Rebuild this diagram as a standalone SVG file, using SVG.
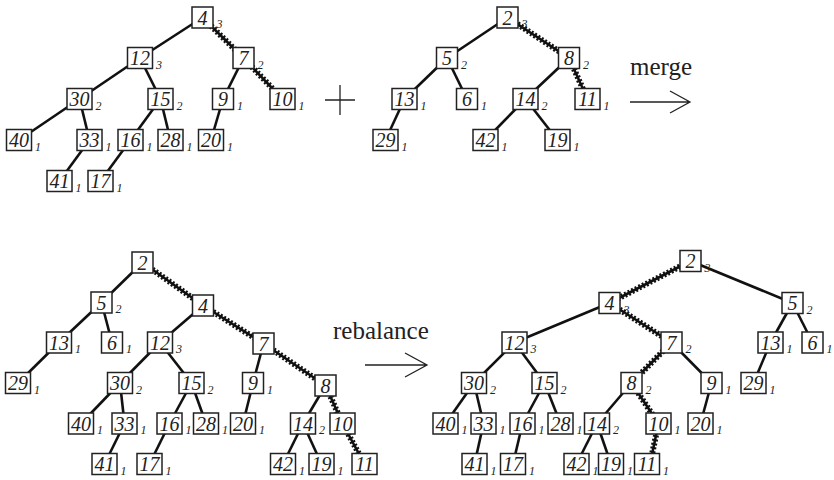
<svg xmlns="http://www.w3.org/2000/svg" width="834" height="480" viewBox="0 0 834 480">
<style>
.b{fill:#fff;stroke:#222;stroke-width:1.5}
.t{font-family:"Liberation Serif",serif;font-style:italic;font-size:20px;text-anchor:middle;fill:#222}
.r{font-family:"Liberation Serif",serif;font-style:italic;font-size:12px;fill:#222}
.e{stroke:#111;stroke-width:2.6;fill:none}
.w{stroke:#111;stroke-width:2.6;fill:none}
.wd{stroke:#111;stroke-width:6;stroke-dasharray:2 2;fill:none}
.a{stroke:#222;stroke-width:1.3;fill:none}
.l{font-family:"Liberation Serif",serif;font-size:25px;fill:#222}
</style>
<g id="connectors">
<line class="e" x1="202.5" y1="17.5" x2="140" y2="58"/>
<line class="w" x1="202.5" y1="17.5" x2="243.5" y2="58"/><line class="wd" x1="202.5" y1="17.5" x2="243.5" y2="58"/>
<line class="e" x1="140" y1="58" x2="79.5" y2="99"/>
<line class="e" x1="140" y1="58" x2="160.5" y2="99"/>
<line class="e" x1="243.5" y1="58" x2="223" y2="99"/>
<line class="w" x1="243.5" y1="58" x2="282.5" y2="99"/><line class="wd" x1="243.5" y1="58" x2="282.5" y2="99"/>
<line class="e" x1="79.5" y1="99" x2="19" y2="140"/>
<line class="e" x1="79.5" y1="99" x2="89.5" y2="140"/>
<line class="e" x1="160.5" y1="99" x2="130.5" y2="140"/>
<line class="e" x1="160.5" y1="99" x2="170.5" y2="140"/>
<line class="e" x1="223" y1="99" x2="211" y2="140"/>
<line class="e" x1="89.5" y1="140" x2="59.5" y2="181"/>
<line class="e" x1="130.5" y1="140" x2="100.5" y2="181"/>
<line class="e" x1="507.5" y1="17.5" x2="447" y2="58"/>
<line class="w" x1="507.5" y1="17.5" x2="569" y2="58"/><line class="wd" x1="507.5" y1="17.5" x2="569" y2="58"/>
<line class="e" x1="447" y1="58" x2="404.5" y2="99"/>
<line class="e" x1="447" y1="58" x2="467" y2="99"/>
<line class="e" x1="569" y1="58" x2="525.5" y2="99"/>
<line class="w" x1="569" y1="58" x2="587.5" y2="99"/><line class="wd" x1="569" y1="58" x2="587.5" y2="99"/>
<line class="e" x1="404.5" y1="99" x2="385.5" y2="140"/>
<line class="e" x1="525.5" y1="99" x2="485.5" y2="140"/>
<line class="e" x1="525.5" y1="99" x2="557.5" y2="140"/>
<line class="e" x1="142.5" y1="262.5" x2="101.5" y2="302.5"/>
<line class="w" x1="142.5" y1="262.5" x2="203" y2="305.5"/><line class="wd" x1="142.5" y1="262.5" x2="203" y2="305.5"/>
<line class="e" x1="101.5" y1="302.5" x2="59" y2="342.5"/>
<line class="e" x1="101.5" y1="302.5" x2="112" y2="342.5"/>
<line class="e" x1="59" y1="342.5" x2="18" y2="383"/>
<line class="e" x1="203" y1="305.5" x2="160" y2="342.5"/>
<line class="w" x1="203" y1="305.5" x2="263.5" y2="343.5"/><line class="wd" x1="203" y1="305.5" x2="263.5" y2="343.5"/>
<line class="e" x1="160" y1="342.5" x2="120" y2="383"/>
<line class="e" x1="160" y1="342.5" x2="191.5" y2="383"/>
<line class="e" x1="120" y1="383" x2="81" y2="423.5"/>
<line class="e" x1="120" y1="383" x2="124.5" y2="423.5"/>
<line class="e" x1="124.5" y1="423.5" x2="104.5" y2="464"/>
<line class="e" x1="191.5" y1="383" x2="169.5" y2="423.5"/>
<line class="e" x1="191.5" y1="383" x2="206" y2="423.5"/>
<line class="e" x1="169.5" y1="423.5" x2="149.5" y2="464"/>
<line class="e" x1="263.5" y1="343.5" x2="253" y2="383"/>
<line class="w" x1="263.5" y1="343.5" x2="325.5" y2="385.5"/><line class="wd" x1="263.5" y1="343.5" x2="325.5" y2="385.5"/>
<line class="e" x1="253" y1="383" x2="243" y2="423.5"/>
<line class="e" x1="325.5" y1="385.5" x2="303" y2="423.5"/>
<line class="w" x1="325.5" y1="385.5" x2="342.5" y2="423.5"/><line class="wd" x1="325.5" y1="385.5" x2="342.5" y2="423.5"/>
<line class="e" x1="303" y1="423.5" x2="283" y2="464"/>
<line class="e" x1="303" y1="423.5" x2="321.5" y2="464"/>
<line class="w" x1="342.5" y1="423.5" x2="364.5" y2="464"/><line class="wd" x1="342.5" y1="423.5" x2="364.5" y2="464"/>
<line class="w" x1="690.5" y1="261" x2="609.5" y2="303"/><line class="wd" x1="690.5" y1="261" x2="609.5" y2="303"/>
<line class="e" x1="690.5" y1="261" x2="792.5" y2="303"/>
<line class="e" x1="609.5" y1="303" x2="514.5" y2="342.5"/>
<line class="w" x1="609.5" y1="303" x2="671.5" y2="342.5"/><line class="wd" x1="609.5" y1="303" x2="671.5" y2="342.5"/>
<line class="e" x1="514.5" y1="342.5" x2="474" y2="383"/>
<line class="e" x1="514.5" y1="342.5" x2="544.5" y2="383"/>
<line class="e" x1="474" y1="383" x2="445.5" y2="423.5"/>
<line class="e" x1="474" y1="383" x2="483.5" y2="423.5"/>
<line class="e" x1="483.5" y1="423.5" x2="474.5" y2="464"/>
<line class="e" x1="544.5" y1="383" x2="522.5" y2="423.5"/>
<line class="e" x1="544.5" y1="383" x2="560.5" y2="423.5"/>
<line class="e" x1="522.5" y1="423.5" x2="513" y2="464"/>
<line class="w" x1="671.5" y1="342.5" x2="631.5" y2="383"/><line class="wd" x1="671.5" y1="342.5" x2="631.5" y2="383"/>
<line class="e" x1="671.5" y1="342.5" x2="711.5" y2="383"/>
<line class="e" x1="631.5" y1="383" x2="597" y2="423.5"/>
<line class="w" x1="631.5" y1="383" x2="658.5" y2="423.5"/><line class="wd" x1="631.5" y1="383" x2="658.5" y2="423.5"/>
<line class="w" x1="658.5" y1="423.5" x2="650" y2="464"/><line class="wd" x1="658.5" y1="423.5" x2="650" y2="464"/>
<line class="e" x1="597" y1="423.5" x2="576.5" y2="464"/>
<line class="e" x1="597" y1="423.5" x2="611" y2="464"/>
<line class="e" x1="711.5" y1="383" x2="700.5" y2="423.5"/>
<line class="e" x1="792.5" y1="303" x2="770.5" y2="342.5"/>
<line class="e" x1="792.5" y1="303" x2="812.5" y2="342.5"/>
<line class="e" x1="770.5" y1="342.5" x2="753.5" y2="383"/>
</g>
<g id="tl-4"><rect class="b" x="192" y="7" width="21" height="21"/><text class="t" x="202.5" y="24.5">4</text><text class="r" x="216.5" y="28">3</text></g>
<g id="tl-12"><rect class="b" x="127.5" y="47.5" width="25" height="21"/><text class="t" x="140" y="65">12</text><text class="r" x="156" y="68.5">3</text></g>
<g id="tl-7"><rect class="b" x="233" y="47.5" width="21" height="21"/><text class="t" x="243.5" y="65">7</text><text class="r" x="257.5" y="68.5">2</text></g>
<g id="tl-30"><rect class="b" x="67" y="88.5" width="25" height="21"/><text class="t" x="79.5" y="106">30</text><text class="r" x="95.5" y="109.5">2</text></g>
<g id="tl-15"><rect class="b" x="148" y="88.5" width="25" height="21"/><text class="t" x="160.5" y="106">15</text><text class="r" x="176.5" y="109.5">2</text></g>
<g id="tl-9"><rect class="b" x="212.5" y="88.5" width="21" height="21"/><text class="t" x="223" y="106">9</text><text class="r" x="237" y="109.5">1</text></g>
<g id="tl-10"><rect class="b" x="270" y="88.5" width="25" height="21"/><text class="t" x="282.5" y="106">10</text><text class="r" x="298.5" y="109.5">1</text></g>
<g id="tl-40"><rect class="b" x="6.5" y="129.5" width="25" height="21"/><text class="t" x="19" y="147">40</text><text class="r" x="35" y="150.5">1</text></g>
<g id="tl-33"><rect class="b" x="77" y="129.5" width="25" height="21"/><text class="t" x="89.5" y="147">33</text><text class="r" x="105.5" y="150.5">1</text></g>
<g id="tl-16"><rect class="b" x="118" y="129.5" width="25" height="21"/><text class="t" x="130.5" y="147">16</text><text class="r" x="146.5" y="150.5">1</text></g>
<g id="tl-28"><rect class="b" x="158" y="129.5" width="25" height="21"/><text class="t" x="170.5" y="147">28</text><text class="r" x="186.5" y="150.5">1</text></g>
<g id="tl-20"><rect class="b" x="198.5" y="129.5" width="25" height="21"/><text class="t" x="211" y="147">20</text><text class="r" x="227" y="150.5">1</text></g>
<g id="tl-41"><rect class="b" x="47" y="170.5" width="25" height="21"/><text class="t" x="59.5" y="188">41</text><text class="r" x="75.5" y="191.5">1</text></g>
<g id="tl-17"><rect class="b" x="88" y="170.5" width="25" height="21"/><text class="t" x="100.5" y="188">17</text><text class="r" x="116.5" y="191.5">1</text></g>
<g id="tr-2"><rect class="b" x="497" y="7" width="21" height="21"/><text class="t" x="507.5" y="24.5">2</text><text class="r" x="521.5" y="28">3</text></g>
<g id="tr-5"><rect class="b" x="436.5" y="47.5" width="21" height="21"/><text class="t" x="447" y="65">5</text><text class="r" x="461" y="68.5">2</text></g>
<g id="tr-8"><rect class="b" x="558.5" y="47.5" width="21" height="21"/><text class="t" x="569" y="65">8</text><text class="r" x="583" y="68.5">2</text></g>
<g id="tr-13"><rect class="b" x="392" y="88.5" width="25" height="21"/><text class="t" x="404.5" y="106">13</text><text class="r" x="420.5" y="109.5">1</text></g>
<g id="tr-6"><rect class="b" x="456.5" y="88.5" width="21" height="21"/><text class="t" x="467" y="106">6</text><text class="r" x="481" y="109.5">1</text></g>
<g id="tr-14"><rect class="b" x="513" y="88.5" width="25" height="21"/><text class="t" x="525.5" y="106">14</text><text class="r" x="541.5" y="109.5">2</text></g>
<g id="tr-11"><rect class="b" x="575" y="88.5" width="25" height="21"/><text class="t" x="587.5" y="106">11</text><text class="r" x="603.5" y="109.5">1</text></g>
<g id="tr-29"><rect class="b" x="373" y="129.5" width="25" height="21"/><text class="t" x="385.5" y="147">29</text><text class="r" x="401.5" y="150.5">1</text></g>
<g id="tr-42"><rect class="b" x="473" y="129.5" width="25" height="21"/><text class="t" x="485.5" y="147">42</text><text class="r" x="501.5" y="150.5">1</text></g>
<g id="tr-19"><rect class="b" x="545" y="129.5" width="25" height="21"/><text class="t" x="557.5" y="147">19</text><text class="r" x="573.5" y="150.5">1</text></g>
<g id="bl-2"><rect class="b" x="132" y="252" width="21" height="21"/><text class="t" x="142.5" y="269.5">2</text></g>
<g id="bl-5"><rect class="b" x="91" y="292" width="21" height="21"/><text class="t" x="101.5" y="309.5">5</text><text class="r" x="115.5" y="313">2</text></g>
<g id="bl-4"><rect class="b" x="192.5" y="295" width="21" height="21"/><text class="t" x="203" y="312.5">4</text></g>
<g id="bl-13"><rect class="b" x="46.5" y="332" width="25" height="21"/><text class="t" x="59" y="349.5">13</text><text class="r" x="75" y="353">1</text></g>
<g id="bl-6"><rect class="b" x="101.5" y="332" width="21" height="21"/><text class="t" x="112" y="349.5">6</text><text class="r" x="126" y="353">1</text></g>
<g id="bl-12"><rect class="b" x="147.5" y="332" width="25" height="21"/><text class="t" x="160" y="349.5">12</text><text class="r" x="176" y="353">3</text></g>
<g id="bl-7"><rect class="b" x="253" y="333" width="21" height="21"/><text class="t" x="263.5" y="350.5">7</text></g>
<g id="bl-29"><rect class="b" x="5.5" y="372.5" width="25" height="21"/><text class="t" x="18" y="390">29</text><text class="r" x="34" y="393.5">1</text></g>
<g id="bl-30"><rect class="b" x="107.5" y="372.5" width="25" height="21"/><text class="t" x="120" y="390">30</text><text class="r" x="136" y="393.5">2</text></g>
<g id="bl-15"><rect class="b" x="179" y="372.5" width="25" height="21"/><text class="t" x="191.5" y="390">15</text><text class="r" x="207.5" y="393.5">2</text></g>
<g id="bl-9"><rect class="b" x="242.5" y="372.5" width="21" height="21"/><text class="t" x="253" y="390">9</text><text class="r" x="267" y="393.5">1</text></g>
<g id="bl-8"><rect class="b" x="315" y="375" width="21" height="21"/><text class="t" x="325.5" y="392.5">8</text></g>
<g id="bl-40"><rect class="b" x="68.5" y="413" width="25" height="21"/><text class="t" x="81" y="430.5">40</text><text class="r" x="97" y="434">1</text></g>
<g id="bl-33"><rect class="b" x="112" y="413" width="25" height="21"/><text class="t" x="124.5" y="430.5">33</text><text class="r" x="140.5" y="434">1</text></g>
<g id="bl-16"><rect class="b" x="157" y="413" width="25" height="21"/><text class="t" x="169.5" y="430.5">16</text><text class="r" x="185.5" y="434">1</text></g>
<g id="bl-28"><rect class="b" x="193.5" y="413" width="25" height="21"/><text class="t" x="206" y="430.5">28</text><text class="r" x="222" y="434">1</text></g>
<g id="bl-20"><rect class="b" x="230.5" y="413" width="25" height="21"/><text class="t" x="243" y="430.5">20</text><text class="r" x="259" y="434">1</text></g>
<g id="bl-14"><rect class="b" x="290.5" y="413" width="25" height="21"/><text class="t" x="303" y="430.5">14</text><text class="r" x="319" y="434">2</text></g>
<g id="bl-10"><rect class="b" x="330" y="413" width="25" height="21"/><text class="t" x="342.5" y="430.5">10</text></g>
<g id="bl-41"><rect class="b" x="92" y="453.5" width="25" height="21"/><text class="t" x="104.5" y="471">41</text><text class="r" x="120.5" y="474.5">1</text></g>
<g id="bl-17"><rect class="b" x="137" y="453.5" width="25" height="21"/><text class="t" x="149.5" y="471">17</text><text class="r" x="165.5" y="474.5">1</text></g>
<g id="bl-42"><rect class="b" x="270.5" y="453.5" width="25" height="21"/><text class="t" x="283" y="471">42</text><text class="r" x="299" y="474.5">1</text></g>
<g id="bl-19"><rect class="b" x="309" y="453.5" width="25" height="21"/><text class="t" x="321.5" y="471">19</text><text class="r" x="337.5" y="474.5">1</text></g>
<g id="bl-11"><rect class="b" x="352" y="453.5" width="25" height="21"/><text class="t" x="364.5" y="471">11</text></g>
<g id="br-2"><rect class="b" x="680" y="250.5" width="21" height="21"/><text class="t" x="690.5" y="268">2</text><text class="r" x="704.5" y="271.5">3</text></g>
<g id="br-4"><rect class="b" x="599" y="292.5" width="21" height="21"/><text class="t" x="609.5" y="310">4</text><text class="r" x="623.5" y="313.5">3</text></g>
<g id="br-5"><rect class="b" x="782" y="292.5" width="21" height="21"/><text class="t" x="792.5" y="310">5</text><text class="r" x="806.5" y="313.5">2</text></g>
<g id="br-12"><rect class="b" x="502" y="332" width="25" height="21"/><text class="t" x="514.5" y="349.5">12</text><text class="r" x="530.5" y="353">3</text></g>
<g id="br-7"><rect class="b" x="661" y="332" width="21" height="21"/><text class="t" x="671.5" y="349.5">7</text><text class="r" x="685.5" y="353">2</text></g>
<g id="br-13"><rect class="b" x="758" y="332" width="25" height="21"/><text class="t" x="770.5" y="349.5">13</text><text class="r" x="786.5" y="353">1</text></g>
<g id="br-6"><rect class="b" x="802" y="332" width="21" height="21"/><text class="t" x="812.5" y="349.5">6</text><text class="r" x="826.5" y="353">1</text></g>
<g id="br-30"><rect class="b" x="461.5" y="372.5" width="25" height="21"/><text class="t" x="474" y="390">30</text><text class="r" x="490" y="393.5">2</text></g>
<g id="br-15"><rect class="b" x="532" y="372.5" width="25" height="21"/><text class="t" x="544.5" y="390">15</text><text class="r" x="560.5" y="393.5">2</text></g>
<g id="br-8"><rect class="b" x="621" y="372.5" width="21" height="21"/><text class="t" x="631.5" y="390">8</text><text class="r" x="645.5" y="393.5">2</text></g>
<g id="br-9"><rect class="b" x="701" y="372.5" width="21" height="21"/><text class="t" x="711.5" y="390">9</text><text class="r" x="725.5" y="393.5">1</text></g>
<g id="br-29"><rect class="b" x="741" y="372.5" width="25" height="21"/><text class="t" x="753.5" y="390">29</text><text class="r" x="769.5" y="393.5">1</text></g>
<g id="br-40"><rect class="b" x="433" y="413" width="25" height="21"/><text class="t" x="445.5" y="430.5">40</text><text class="r" x="461.5" y="434">1</text></g>
<g id="br-33"><rect class="b" x="471" y="413" width="25" height="21"/><text class="t" x="483.5" y="430.5">33</text><text class="r" x="499.5" y="434">1</text></g>
<g id="br-16"><rect class="b" x="510" y="413" width="25" height="21"/><text class="t" x="522.5" y="430.5">16</text><text class="r" x="538.5" y="434">1</text></g>
<g id="br-28"><rect class="b" x="548" y="413" width="25" height="21"/><text class="t" x="560.5" y="430.5">28</text><text class="r" x="576.5" y="434">1</text></g>
<g id="br-14"><rect class="b" x="584.5" y="413" width="25" height="21"/><text class="t" x="597" y="430.5">14</text><text class="r" x="613" y="434">2</text></g>
<g id="br-10"><rect class="b" x="646" y="413" width="25" height="21"/><text class="t" x="658.5" y="430.5">10</text><text class="r" x="674.5" y="434">1</text></g>
<g id="br-20"><rect class="b" x="688" y="413" width="25" height="21"/><text class="t" x="700.5" y="430.5">20</text><text class="r" x="716.5" y="434">1</text></g>
<g id="br-41"><rect class="b" x="462" y="453.5" width="25" height="21"/><text class="t" x="474.5" y="471">41</text><text class="r" x="490.5" y="474.5">1</text></g>
<g id="br-17"><rect class="b" x="500.5" y="453.5" width="25" height="21"/><text class="t" x="513" y="471">17</text><text class="r" x="529" y="474.5">1</text></g>
<g id="br-42"><rect class="b" x="564" y="453.5" width="25" height="21"/><text class="t" x="576.5" y="471">42</text><text class="r" x="592.5" y="474.5">1</text></g>
<g id="br-19"><rect class="b" x="598.5" y="453.5" width="25" height="21"/><text class="t" x="611" y="471">19</text><text class="r" x="627" y="474.5">1</text></g>
<g id="br-11"><rect class="b" x="634.5" y="453.5" width="25" height="21"/><text class="t" x="647" y="471">11</text><text class="r" x="663" y="474.5">1</text></g>
<g id="plus"><path class="a" d="M340 85V115M325 100H355"/></g>
<g id="merge"><text class="l" x="630" y="75">merge</text><path class="a" d="M630 102H690M670 91L690 102L670 113"/></g>
<g id="rebalance"><text class="l" x="333" y="339">rebalance</text><path class="a" d="M365 365H427M405 353L427 365L405 377"/></g>
</svg>
